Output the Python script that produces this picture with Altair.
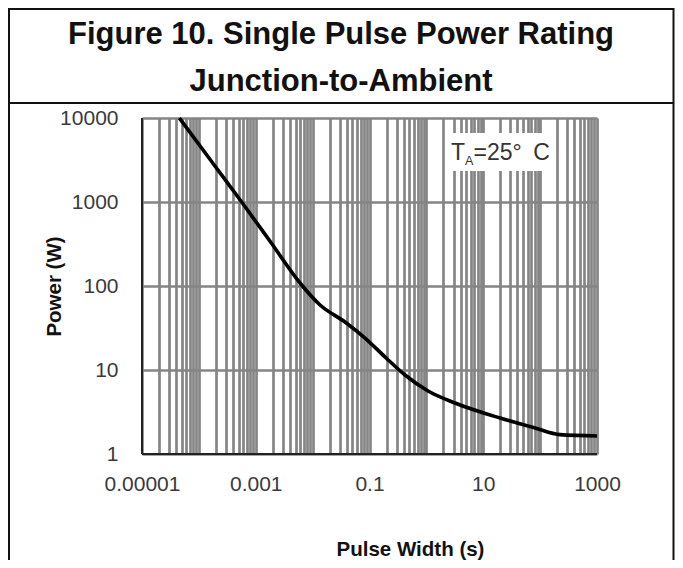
import altair as alt
import pandas as pd

# ---- data ----
pulse_width = [4.53e-5, 1.60e-4, 5.66e-4, 1.93e-3, 6.00e-3, 1.35e-2, 0.0371, 0.0834,
               0.1875, 0.421, 1.07, 3.18, 19.7, 81.3, 223, 1000]
power = [10000, 3162, 1000, 316, 108.6, 59.4, 37.3, 24.0,
         14.3, 8.72, 5.62, 4.05, 2.68, 2.04, 1.70, 1.64]

x_major = [0.00001, 0.001, 0.1, 10, 1000]
x_major_labels = ["0.00001", "0.001", "0.1", "10", "1000"]
x_grid = [float(f"{k}e{n}") for n in range(-5, 3) for k in range(1, 10)] + [1000.0]

y_major = [1, 10, 100, 1000, 10000]
y_major_labels = ["1", "10", "100", "1000", "10000"]

title_lines = ["Figure 10. Single Pulse Power Rating", "Junction-to-Ambient"]
x_title = "Pulse Width (s)"
y_title = "Power (W)"

# annotation box and text (data coordinates)
ann_box_x = [2.25, 180]
ann_box_y = [2340, 6630]
ann_text = ["T", "A", "=25°\u2002C"]
ann_x = [2.70, 4.77, 6.73]
ann_y = [3130, 2754, 3130]
ann_size = [23, 12.5, 23]

FONT = "Liberation Sans"
LABEL_COLOR = "#3a3a3a"
GRID = "#858585"

xs = alt.Scale(type="log", domain=[x_major[0], x_major[-1]], nice=False)
ys = alt.Scale(type="log", domain=[y_major[0], y_major[-1]], nice=False)


def label_expr(vals, labs):
    s = "".join(f"abs(datum.value/{v} - 1) < 1e-6 ? '{l}' : " for v, l in zip(vals, labs))
    return s + "''"


x_axis = alt.Axis(values=x_grid, labelExpr=label_expr(x_major, x_major_labels),
                  grid=True, gridColor=GRID, gridWidth=2.7, gridOpacity=1,
                  domain=False, ticks=False, tickSize=0, labelPadding=19,
                  labelFont=FONT, labelFontSize=21, labelColor=LABEL_COLOR,
                  labelBaseline="top", labelFlush=False, labelOverlap=False,
                  title=x_title, titleFont=FONT, titleFontSize=20.5, titleFontWeight="bold",
                  titleColor="#111", titleX=268, titleY=101, titleBaseline="alphabetic",
                  titleAlign="center")
y_axis = alt.Axis(values=y_major, labelExpr=label_expr(y_major, y_major_labels),
                  grid=True, gridColor=GRID, gridWidth=2.7, gridOpacity=1,
                  domain=False, ticks=False, tickSize=0, labelPadding=24,
                  labelFont=FONT, labelFontSize=21, labelColor=LABEL_COLOR,
                  labelBaseline="middle", labelFlush=False, labelOverlap=False,
                  title=y_title, titleFont=FONT, titleFontSize=20.5, titleFontWeight="bold",
                  titleColor="#111", titleX=-82, titleY=168, titleBaseline="alphabetic",
                  titleAlign="center", titleAngle=270)


def X(field):
    return alt.X(field, scale=xs, axis=x_axis, title=x_title)


def Y(field):
    return alt.Y(field, scale=ys, axis=y_axis, title=y_title)


curve_df = pd.DataFrame({"t": pulse_width, "p": power})

box = alt.Chart(pd.DataFrame({"x1": [ann_box_x[0]], "x2": [ann_box_x[1]],
                              "y1": [ann_box_y[0]], "y2": [ann_box_y[1]]})).mark_rect(
    fill="white").encode(x=X("x1:Q"), x2="x2:Q", y=Y("y1:Q"), y2="y2:Q")

frame_left = alt.Chart(pd.DataFrame({"x": [x_major[0]]})).mark_rule(
    color="#222", strokeWidth=2).encode(x=X("x:Q"))
frame_bottom = alt.Chart(pd.DataFrame({"y": [y_major[0]]})).mark_rule(
    color="#222", strokeWidth=2).encode(y=Y("y:Q"))

curve = alt.Chart(curve_df).mark_line(color="black", strokeWidth=3.6,
                                      interpolate="monotone").encode(
    x=X("t:Q"), y=Y("p:Q"))

ann_df = pd.DataFrame({"txt": ann_text, "x": ann_x, "y": ann_y, "s": ann_size})
ann = alt.Chart(ann_df).mark_text(align="left", baseline="alphabetic", font=FONT,
                                  color="#333").encode(
    x=X("x:Q"), y=Y("y:Q"), text="txt:N",
    size=alt.Size("s:Q", scale=None, legend=None))

# figure title (two lines) in the framed header
t1 = alt.Chart(pd.DataFrame({"t": [title_lines[0]]})).mark_text(
    font=FONT, fontSize=31, fontWeight="bold", color="#111", align="center",
    baseline="alphabetic").encode(x=alt.value(199), y=alt.value(-74.5), text="t:N")
t2 = alt.Chart(pd.DataFrame({"t": [title_lines[1]]})).mark_text(
    font=FONT, fontSize=31, fontWeight="bold", color="#111", align="center",
    baseline="alphabetic").encode(x=alt.value(199), y=alt.value(-27.5), text="t:N")

# outer frame of the figure
frame_df = pd.DataFrame({"k": [0]})
b_top = alt.Chart(frame_df).mark_rule(color="#111", strokeWidth=2).encode(
    x=alt.value(-133), x2=alt.value(532), y=alt.value(-109))
b_sep = alt.Chart(frame_df).mark_rule(color="#111", strokeWidth=2).encode(
    x=alt.value(-133), x2=alt.value(532), y=alt.value(-15))
b_left = alt.Chart(frame_df).mark_rule(color="#111", strokeWidth=2).encode(
    x=alt.value(-133), y=alt.value(-110), y2=alt.value(442))
b_right = alt.Chart(frame_df).mark_rule(color="#111", strokeWidth=2).encode(
    x=alt.value(531.5), y=alt.value(-110), y2=alt.value(442))

chart = alt.layer(box, frame_left, frame_bottom, curve, ann,
                  t1, t2, b_top, b_sep, b_left, b_right).properties(
    width=455, height=336,
    padding={"left": 134, "top": 110, "right": 78, "bottom": 106},
    autosize=alt.AutoSizeParams(type="none"),
    background="white",
).configure_view(stroke="transparent")

chart.save("out.html", embed_options={"renderer": "svg", "actions": False})
